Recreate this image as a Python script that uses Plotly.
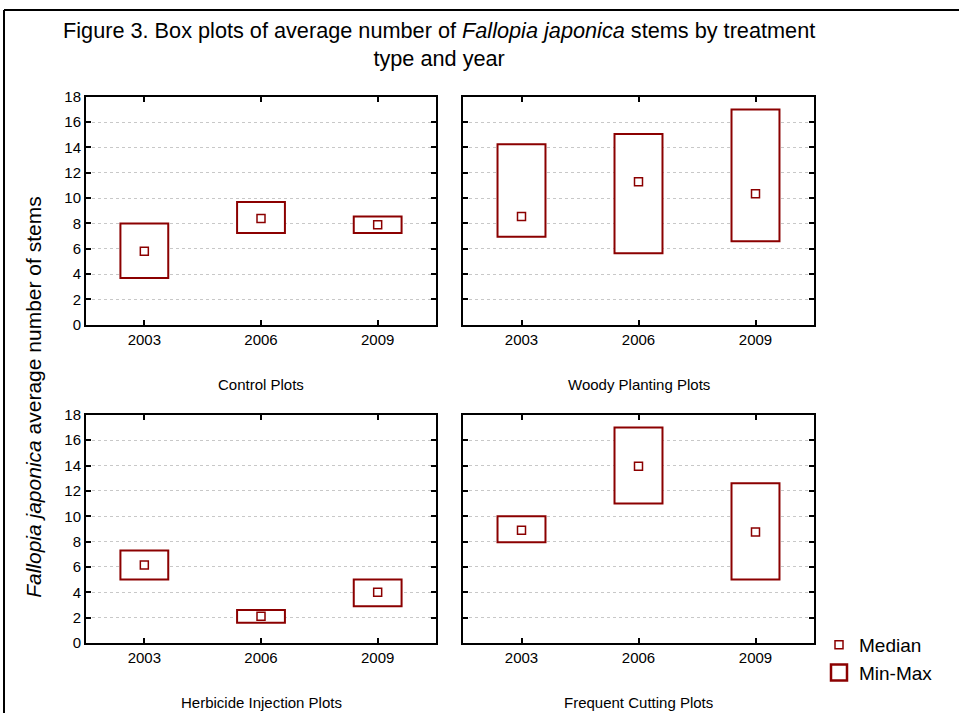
import plotly.graph_objects as go

years = ["2003", "2006", "2009"]
panels = ["Control Plots", "Woody Planting Plots", "Herbicide Injection Plots", "Frequent Cutting Plots"]

control_min = [3.7, 7.25, 7.25]
control_max = [8.0, 9.7, 8.55]
control_med = [5.8, 8.4, 7.9]

woody_min = [6.95, 5.65, 6.6]
woody_max = [14.25, 15.05, 17.0]
woody_med = [8.55, 11.3, 10.35]

herb_min = [5.0, 1.6, 2.9]
herb_max = [7.3, 2.6, 5.0]
herb_med = [6.15, 2.1, 4.0]

cut_min = [7.95, 11.0, 5.0]
cut_max = [10.0, 17.0, 12.6]
cut_med = [8.9, 13.95, 8.75]

data = [
    (control_min, control_max, control_med),
    (woody_min, woody_max, woody_med),
    (herb_min, herb_max, herb_med),
    (cut_min, cut_max, cut_med),
]

W, H = 959, 721
RED = "#8B0000"
FONT = "Liberation Sans, Arial, sans-serif"


def py(t):
    """target pixel row -> paper y (compensates the observed vertical capture offset)"""
    page = (t - 9.3) / 0.976
    return 1 - page / H


# panel pixel boxes (x0, x1, ytop, ybottom)
px_boxes = [(86, 436, 97, 325), (463, 814, 97, 325), (86, 436, 415, 643), (463, 814, 415, 643)]

fig = go.Figure()
layout_axes = {}
for i, ((mn, mx, md), (x0, x1, yt, yb)) in enumerate(zip(data, px_boxes)):
    n = i + 1
    xa = "x" if n == 1 else f"x{n}"
    ya = "y" if n == 1 else f"y{n}"
    fig.add_trace(go.Bar(
        x=years, base=mn, y=[a - b for a, b in zip(mx, mn)],
        width=0.41, marker=dict(color="white", line=dict(color=RED, width=2)),
        name="Min-Max", showlegend=False,
        xaxis=xa, yaxis=ya, hoverinfo="skip",
    ))
    fig.add_trace(go.Scatter(
        x=years, y=md, mode="markers",
        marker=dict(symbol="square-open", size=8, color=RED, line=dict(width=1.5, color=RED)),
        name="Median", legendgroup="md", showlegend=(i == 0), legendrank=1,
        xaxis=xa, yaxis=ya,
    ))
    xkey = "xaxis" if n == 1 else f"xaxis{n}"
    ykey = "yaxis" if n == 1 else f"yaxis{n}"
    layout_axes[xkey] = dict(
        domain=[x0 / W, x1 / W], anchor=ya, range=[-0.5, 2.5], type="category",
        showline=True, linecolor="black", linewidth=2, mirror="allticks",
        ticks="inside", ticklen=5, tickwidth=2, tickcolor="black",
        showgrid=False, zeroline=False,
        tickfont=dict(family=FONT, size=15, color="black"),
    )
    layout_axes[ykey] = dict(
        domain=[py(yb), py(yt)], anchor=xa, range=[0, 18], dtick=2,
        showline=True, linecolor="black", linewidth=2, mirror="allticks",
        ticks="inside", ticklen=5, tickwidth=2, tickcolor="black",
        showgrid=True, gridcolor="#c8c8c8", griddash="dot", gridwidth=1,
        zeroline=False, showticklabels=(n in (1, 3)),
        tickfont=dict(family=FONT, size=15, color="black"),
    )

# legend entry for the min-max rectangles (same style as the bars, larger swatch)
fig.add_trace(go.Scatter(
    x=[None], y=[None], mode="markers", name="Min-Max", legendrank=2,
    marker=dict(symbol="square-open", size=16, color=RED, line=dict(width=2.5, color=RED)),
    xaxis="x4", yaxis="y4", hoverinfo="skip",
))

annotations = []
title_y = [385, 385, 703, 703]
for (x0, x1, yt, yb), name, ty in zip(px_boxes, panels, title_y):
    annotations.append(dict(
        text=name, x=(x0 + x1) / 2 / W, y=py(ty), xref="paper", yref="paper",
        showarrow=False, xanchor="center", yanchor="middle",
        font=dict(family=FONT, size=15, color="black"),
    ))

annotations.append(dict(
    text="<i>Fallopia japonica</i> average number of stems",
    x=34 / W, y=py(397), xref="paper", yref="paper", textangle=-90,
    showarrow=False, xanchor="center", yanchor="middle",
    font=dict(family=FONT, size=21, color="black"),
))
annotations.append(dict(
    text="Figure 3. Box plots of average number of <i>Fallopia japonica</i> stems by treatment<br>type and year",
    x=439 / W, y=py(45), xref="paper", yref="paper",
    showarrow=False, xanchor="center", yanchor="middle", align="center",
    font=dict(family=FONT, size=21.7, color="black"),
))

shapes = [
    dict(type="line", xref="paper", yref="paper", x0=4 / W, x1=1.0, y0=1 - 1 / H, y1=1 - 1 / H,
         line=dict(color="black", width=2)),
    dict(type="line", xref="paper", yref="paper", x0=4 / W, x1=4 / W, y0=0, y1=1 - 1 / H,
         line=dict(color="black", width=2)),
]

fig.update_layout(
    width=W, height=H, margin=dict(l=0, r=0, t=0, b=0),
    paper_bgcolor="white", plot_bgcolor="white",
    barmode="overlay", annotations=annotations, shapes=shapes,
    legend=dict(x=819 / W, y=py(626), xanchor="left", yanchor="top",
                font=dict(family=FONT, size=19, color="black"),
                traceorder="normal", bgcolor="rgba(0,0,0,0)", itemsizing="trace",
                tracegroupgap=0),
    **layout_axes,
)

fig.write_html(
    "out.html",
    config={"displayModeBar": False},
    post_script=(
        "document.documentElement.style.margin='0';"
        "document.documentElement.style.padding='0';"
        "document.body.style.margin='0';"
        "document.body.style.padding='0';"
        "var gd=document.getElementById('{plot_id}');"
        "gd.style.position='fixed';gd.style.top='0px';gd.style.left='0px';"
    ),
)
